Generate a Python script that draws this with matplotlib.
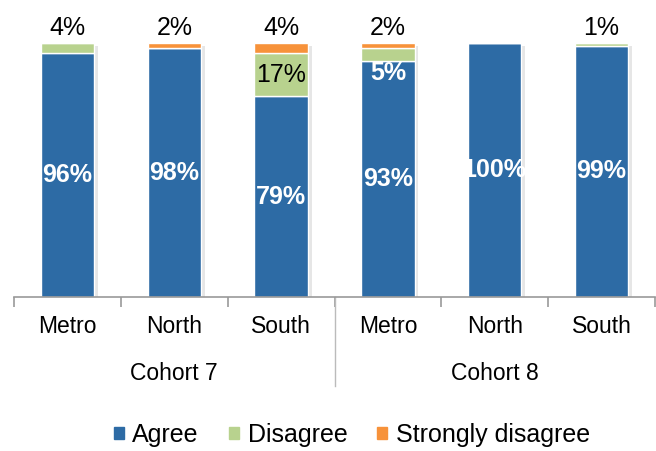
import matplotlib
matplotlib.use("Agg")
import matplotlib.pyplot as plt
from matplotlib import font_manager
from matplotlib.lines import Line2D
from matplotlib.patches import Patch

# data
regions = ["Metro", "North", "South", "Metro", "North", "South"]
cohorts = ["Cohort 7", "Cohort 8"]
agree = [96, 98, 79, 93, 100, 99]
disagree = [4, 0, 17, 5, 0, 1]
strongly = [0, 2, 4, 2, 0, 0]
agree_lbl = ["96%", "98%", "79%", "93%", "100%", "99%"]
top_lbl = ["4%", "2%", "4%", "2%", "", "1%"]

blue = "#2D6BA5"
green = "#B8D28E"
orange = "#F7923A"

names = [f.name for f in font_manager.fontManager.ttflist]
narrow = "Liberation Sans Narrow" if "Liberation Sans Narrow" in names else "Liberation Sans"
nsize = 18 if narrow == "Liberation Sans Narrow" else 16.5
plt.rcParams["font.family"] = ["Liberation Sans", "DejaVu Sans"]

fig = plt.figure(figsize=(6.56, 4.51), dpi=100)
ax = fig.add_axes([14 / 656, 1 - 297 / 451, 641 / 656, (297 - 43) / 451])

x = list(range(len(regions)))
w = 0.5
totals = [a + d + s for a, d, s in zip(agree, disagree, strongly)]

# soft shadow behind the bars
ax.bar([i + 0.02 for i in x], totals, w + 0.03, bottom=-1, color="#e6e6e6", zorder=1)
ax.bar(x, agree, w, color=blue, edgecolor="white", linewidth=1, zorder=2)
ax.bar(x, disagree, w, bottom=agree, color=green, edgecolor="white", linewidth=1, zorder=2)
b2 = [a + d for a, d in zip(agree, disagree)]
ax.bar(x, strongly, w, bottom=b2, color=orange, edgecolor="white", linewidth=1, zorder=2)

for i in x:
    ax.text(i, agree[i] / 2, agree_lbl[i], ha="center", va="center", color="white",
            fontsize=18, fontweight="bold", zorder=3)
    if top_lbl[i]:
        ax.text(i, 106, top_lbl[i], ha="center", va="center", fontsize=18, clip_on=False)
ax.text(2, 79 + 17 / 2, "17%", ha="center", va="center", fontsize=18, zorder=3)
ax.text(3, 88, "5%", ha="center", va="center", color="white", fontsize=18,
        fontweight="bold", zorder=3)

ax.set_xlim(-0.5, 5.5)
ax.set_ylim(0, 100)
ax.set_yticks([])
for s in ["left", "right", "top"]:
    ax.spines[s].set_visible(False)
ax.spines["bottom"].set_color("#999999")
ax.spines["bottom"].set_linewidth(1.2)

ax.set_xticks([i - 0.5 for i in range(7)])
ax.set_xticklabels([])
ax.tick_params(axis="x", length=7, color="#999999", width=1.2, direction="out")

trans = ax.get_xaxis_transform()
for i, r in enumerate(regions):
    ax.text(i, -0.115, r, transform=trans, ha="center", va="center",
            family=narrow, fontsize=nsize)
for j, c in enumerate(cohorts):
    ax.text(1 + 3 * j, -0.30, c, transform=trans, ha="center", va="center",
            family=narrow, fontsize=nsize)
ax.add_line(Line2D([2.5, 2.5], [0, -0.35], transform=trans, color="#bbbbbb",
                   linewidth=1, clip_on=False))

handles = [Patch(color=blue), Patch(color=green), Patch(color=orange)]
fig.legend(handles, ["Agree", "Disagree", "Strongly disagree"], loc="center",
           bbox_to_anchor=(352 / 656, 1 - 435 / 451), ncol=3, frameon=False,
           fontsize=18, handlelength=0.4, handleheight=0.4, handletextpad=0.35,
           columnspacing=1.2)

fig.savefig("out.png", dpi=100)
